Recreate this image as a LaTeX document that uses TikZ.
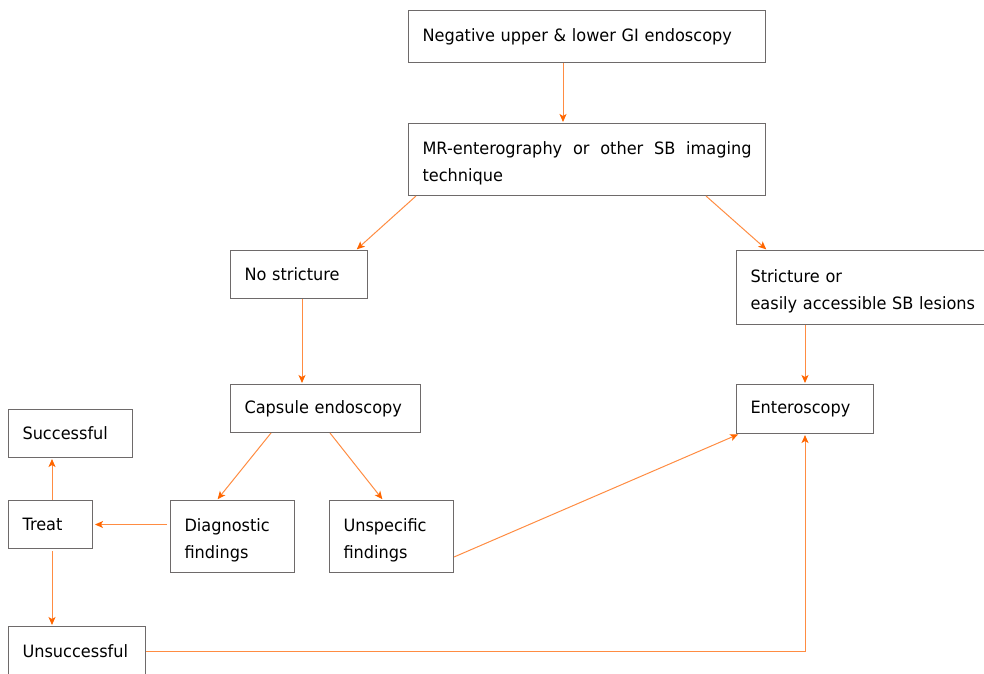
\documentclass[tikz,border=0pt]{standalone}
\usepackage{fontspec}
\setmainfont{DejaVu Sans}[FakeStretch=0.95]
\usetikzlibrary{arrows.meta,calc}
\definecolor{boxgray}{RGB}{110,106,106}
\definecolor{lineorange}{RGB}{255,140,66}
\definecolor{tiporange}{RGB}{255,102,0}

\begin{document}
\begin{tikzpicture}[x = 1pt, y = -1pt,
  box/.style = {draw = boxgray, line width = 1pt, anchor = north west, inner xsep = 14pt, inner ysep = 0pt, align = left, font = \fontsize{17}{27}\selectfont},
  twoline/.style = {text height = 21pt},
  conn/.style = {draw = lineorange, line width = 1pt, -{Stealth[length = 8pt, width = 7pt, inset = 2pt, color = tiporange]}, shorten > = 1pt}]
\useasboundingbox (0,0) rectangle (984,673);
% boxes
\node[box, text width = 329pt, minimum height = 52pt] (neg) at (408,10) {Negative upper \& lower GI endoscopy};
\node[box, twoline, text width = 329pt, minimum height = 72pt, align = justify] (mri) at (408,123) {MR-enterography or other SB imaging\linebreak technique};
\node[box, text width = 109pt, minimum height = 48pt] (nostr) at (230,250) {No stricture};
\node[box, twoline, text width = 222pt, minimum height = 74pt] (str) at (736,250) {Stricture or\\\mbox{easily accessible SB lesions}};
\node[box, text width = 162pt, minimum height = 48pt] (caps) at (230,384) {Capsule endoscopy};
\node[box, text width = 109pt, minimum height = 49pt] (entero) at (736,384) {Enteroscopy};
\node[box, text width = 96pt, minimum height = 48pt] (succ) at (8,409) {Successful};
\node[box, text width = 56pt, minimum height = 48pt] (treat) at (8,500) {Treat};
\node[box, twoline, text width = 96pt, minimum height = 72pt] (diag) at (170,500) {Diagnostic\\findings};
\node[box, twoline, text width = 96pt, minimum height = 72pt] (unspec) at (329,500) {Unspecific\\findings};
\node[box, text width = 109pt, minimum height = 50pt] (unsucc) at (8,626) {Unsuccessful};
% connectors
\draw[conn] ($(neg.south west)+(155,0)$) -- ($(mri.north west)+(155,0)$);
\draw[conn] ($(mri.south west)+(8,0)$) -- ($(nostr.north east)+(-12,0)$);
\draw[conn] ($(mri.south east)+(-60,0)$) -- ($(str.north west)+(31,0)$);
\draw[conn] ($(nostr.south west)+(72,0)$) -- ($(caps.north west)+(72,0)$);
\draw[conn] ($(str.south west)+(69,0)$) -- ($(entero.north west)+(69,0)$);
\draw[conn] ($(caps.south west)+(41,0)$) -- ($(diag.north west)+(47,0)$);
\draw[conn] ($(caps.south west)+(100,0)$) -- ($(unspec.north west)+(54,0)$);
\draw[conn, shorten < = 3pt, shorten > = 2pt] (diag.west |- treat.east) -- (treat.east);
\draw[conn] ($(treat.north west)+(44,0)$) -- ($(succ.south west)+(44,0)$);
\draw[conn, shorten < = 2pt] ($(treat.south west)+(44,0)$) -- ($(unsucc.north west)+(44,0)$);
\draw[conn] ($(unspec.south east)+(0,-16)$) -- ($(entero.south west)+(3,0)$);
\draw[conn] (unsucc.east) -| ($(entero.south west)+(69,0)$);
\end{tikzpicture}
\end{document}
